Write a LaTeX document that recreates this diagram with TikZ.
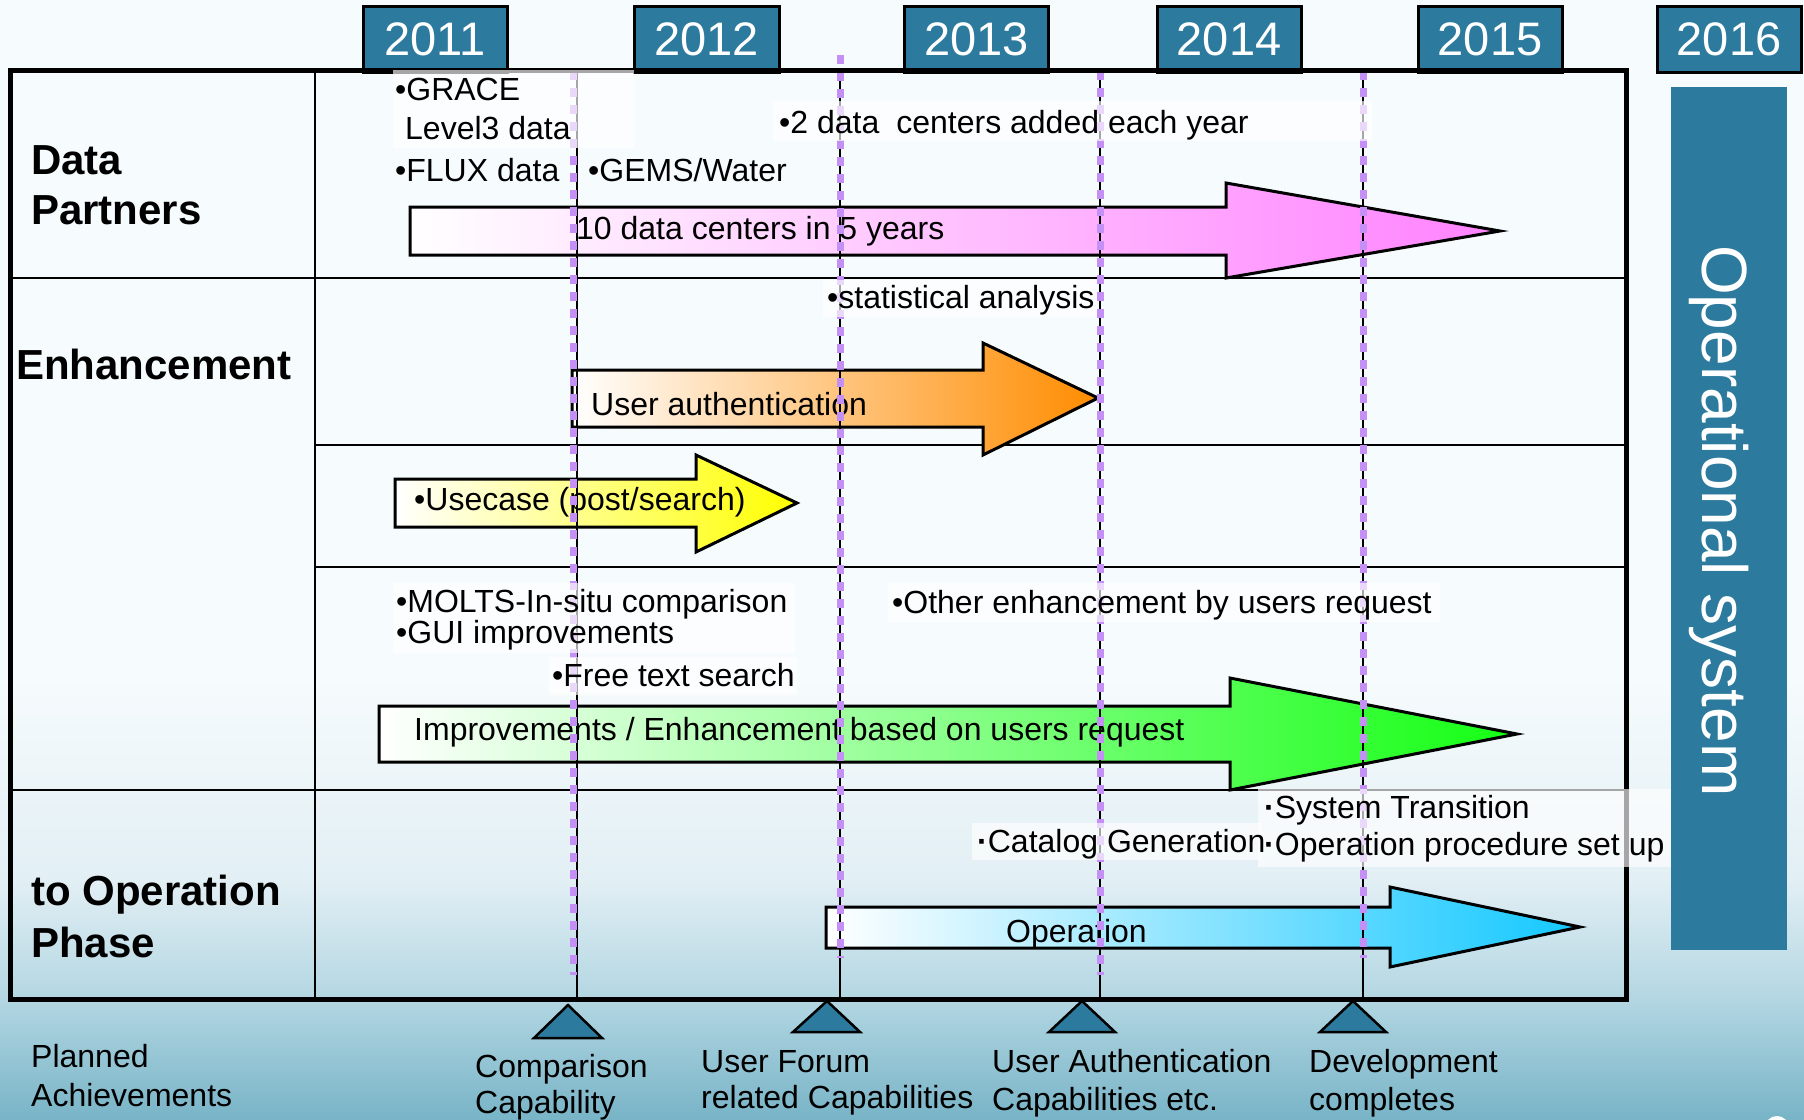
\documentclass[tikz,border=0pt]{standalone}
\usepackage{fontspec}
\setmainfont{Liberation Sans}
\definecolor{tealc}{RGB}{44,122,158}
\definecolor{bgtop}{RGB}{246,251,253}
\definecolor{bgA}{RGB}{226,239,244}
\definecolor{bgB}{RGB}{178,214,226}
\definecolor{bgC}{RGB}{120,180,199}
\definecolor{purp}{RGB}{196,144,246}
\definecolor{pinkc}{RGB}{255,130,255}
\definecolor{orangec}{RGB}{255,140,0}
\definecolor{yellowc}{RGB}{255,255,0}
\definecolor{greenc}{RGB}{20,255,20}
\definecolor{bluec}{RGB}{20,200,255}
\begin{document}
\begin{tikzpicture}[x=1pt,y=-1pt,
  txt/.style={font=\fontsize{32}{38}\selectfont, inner sep=0pt, anchor=base west},
  lbl/.style={font=\fontsize{42}{50}\selectfont\bfseries, inner sep=0pt, anchor=base west},
  yearbox/.style={draw=black, line width=3pt, fill=tealc, text=white, font=\fontsize{47}{55}\selectfont, inner sep=0pt, minimum width=144pt, minimum height=66pt},
  arrowbox/.style={draw=black, line width=3pt, line join=miter},
  gridline/.style={black, line width=2.5pt},
  purpline/.style={draw=purp, line width=7pt, dash pattern=on 9pt off 8pt},
  blkline/.style={black, line width=2pt},
  milestone/.style={draw=black, line width=2.5pt, fill=tealc, line join=miter},
  pale/.style={fill=white, opacity=0.65}
]
\useasboundingbox (0,0) rectangle (1804,1119);
% background
\fill[bgtop] (0,0) rectangle (1804,681);
\shade[top color=bgtop, bottom color=bgA] (0,680) rectangle (1804,881);
\shade[top color=bgA, bottom color=bgB] (0,880) rectangle (1804,1001);
\shade[top color=bgB, bottom color=bgC] (0,1000) rectangle (1804,1119);
\fill[white] (1777,1128) circle (12);

% year boxes
\node[yearbox] (y2011) at (435,39) {2011};
\node[yearbox, minimum width=145pt] (y2012) at (706.5,39) {2012};
\node[yearbox] (y2013) at (976.5,39) {2013};
\node[yearbox] (y2014) at (1229,39) {2014};
\node[yearbox] (y2015) at (1490,39) {2015};
\node[yearbox] (y2016) at (1729,39) {2016};

% grid
\draw[gridline] (10,278) -- (1626,278);
\draw[gridline] (10,790) -- (1626,790);
\draw[gridline] (315,445) -- (1626,445);
\draw[gridline] (315,567) -- (1626,567);
\draw[gridline] (315,70) -- (315,999);

% arrows
\shadedraw[arrowbox, left color=white, right color=pinkc]
  (410,207) -- (1226,207) -- (1226,183) -- (1500,231) -- (1226,278) -- (1226,255) -- (410,255) -- cycle;
\shadedraw[arrowbox, left color=white, right color=orangec]
  (572,370) -- (983,370) -- (983,343) -- (1098,398) -- (983,455) -- (983,427) -- (572,427) -- cycle;
\shadedraw[arrowbox, left color=white, right color=yellowc]
  (395,479) -- (696,479) -- (696,455) -- (797,503) -- (696,552) -- (696,527) -- (395,527) -- cycle;
\shadedraw[arrowbox, left color=white, right color=greenc]
  (379,706) -- (1230,706) -- (1230,678) -- (1517,734) -- (1230,790) -- (1230,762) -- (379,762) -- cycle;
\shadedraw[arrowbox, left color=white, right color=bluec]
  (826,907) -- (1390,907) -- (1390,887) -- (1580,927) -- (1390,967) -- (1390,948) -- (826,948) -- cycle;

\node[txt] (t10) at (576,239) {10 data centers in 5 years};
\node[txt] (tauth) at (591,415) {User authentication};
\node[txt] (tuse) at (414,510) {•Usecase (post/search)};
\node[txt] (timpr) at (414,740) {Improvements / Enhancement based on users request};
\node[txt] (toper) at (1006,942) {Operation};

% vertical milestone lines
\draw[blkline] (577,71) -- (577,999);
\draw[blkline] (840,71) -- (840,999);
\draw[blkline] (1100,71) -- (1100,999);
\draw[blkline] (1363,71) -- (1363,999);
\draw[purpline] (573,71) -- (573,975);
\draw[purpline] (840,55) -- (840,958);
\draw[purpline] (1100,71) -- (1100,975);
\draw[purpline] (1363,71) -- (1363,958);

% frame
\draw[line width=5pt] (10.5,70.5) rectangle (1626,999.5);

% pale text backgrounds
\fill[pale] (393,70) rectangle (634,148);
\fill[pale] (773,101) rectangle (1372,141);
\fill[pale] (823,280) rectangle (1096,317);
\fill[pale] (393,583) rectangle (795,653);
\fill[pale] (549,657) rectangle (797,695);
\fill[pale] (888,583) rectangle (1440,622);
\fill[pale] (972,823) rectangle (1262,860);
\fill[pale] (1258,789) rectangle (1675,867);

% texts
\node[txt] (grace) at (395,100) {•GRACE};
\node[txt] (level3) at (405,139) {Level3 data};
\node[txt] (flux) at (395,181) {•FLUX data};
\node[txt] (gems) at (588,181) {•GEMS/Water};
\node[txt] (twodata) at (779,133) {•2 data\hspace{17pt}centers added each year};
\node[txt] (stat) at (827,308) {•statistical analysis};
\node[txt] (molts) at (396,612) {•MOLTS-In-situ comparison};
\node[txt] (gui) at (396,643) {•GUI improvements};
\node[txt] (free) at (552,686) {•Free text search};
\node[txt] (other) at (892,613) {•Other enhancement by users request};
\node[txt] (catalog) at (977,852) {{\bfseries·}Catalog Generation};
\node[txt] (systr) at (1264,818) {{\bfseries·}System Transition};
\node[txt] (opproc) at (1264,855) {{\bfseries·}Operation procedure set up};

% row labels
\node[lbl] (ldata) at (31,174) {Data};
\node[lbl] (lpart) at (31,224) {Partners};
\node[lbl] (lenh) at (16,379) {Enhancement};
\node[lbl] (lto) at (31,905) {to Operation};
\node[lbl] (lphase) at (31,957) {Phase};

% milestones
\draw[milestone] (568,1005) -- (602,1038) -- (534,1038) -- cycle;
\draw[milestone] (827,1001) -- (860,1032) -- (793,1032) -- cycle;
\draw[milestone] (1082,1001) -- (1115,1032) -- (1049,1032) -- cycle;
\draw[milestone] (1353,1001) -- (1386,1032) -- (1320,1032) -- cycle;

\node[txt] (planned) at (31,1067) {Planned};
\node[txt] (achiev) at (31,1106) {Achievements};
\node[txt] (comp1) at (475,1077) {Comparison};
\node[txt] (comp2) at (475,1113) {Capability};
\node[txt] (uf1) at (701,1072) {User Forum};
\node[txt] (uf2) at (701,1108) {related Capabilities};
\node[txt] (ua1) at (992,1072) {User Authentication};
\node[txt] (ua2) at (992,1110) {Capabilities etc.};
\node[txt] (dev1) at (1309,1072) {Development};
\node[txt] (dev2) at (1309,1110) {completes};

% operational system
\node[fill=tealc, inner sep=0pt, minimum width=116pt, minimum height=863pt] (opbox) at (1729,518.5) {};
\node[rotate=-90, anchor=base west, inner sep=0pt, text=white, font=\fontsize{64}{70}\selectfont] (optext) at (1702,245) {Operational system};
\end{tikzpicture}
\end{document}
